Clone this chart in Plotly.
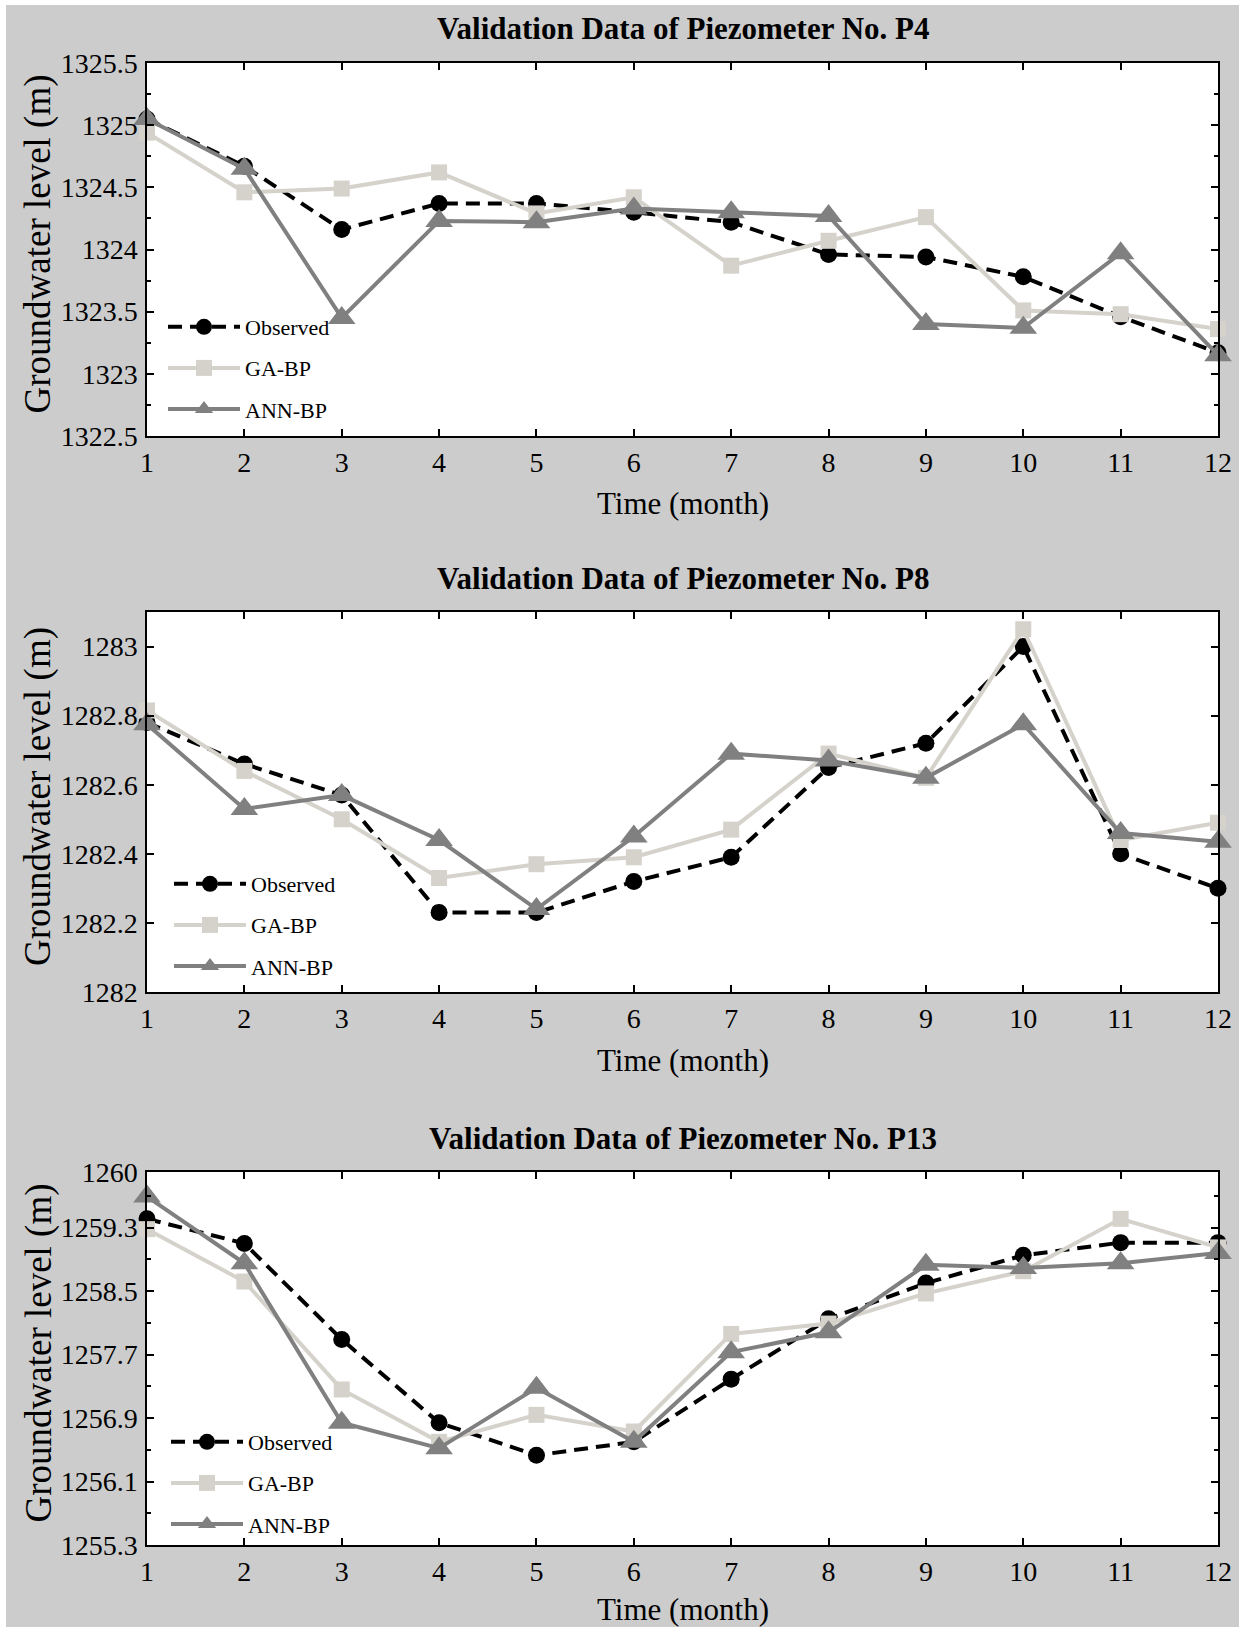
import plotly.graph_objects as go
from plotly.subplots import make_subplots

months = list(range(1, 13))

# Piezometer P4
p4_observed = [1325.05, 1324.67, 1324.16, 1324.37, 1324.37, 1324.30, 1324.22, 1323.96, 1323.94, 1323.78, 1323.46, 1323.17]
p4_gabp = [1324.94, 1324.46, 1324.49, 1324.62, 1324.29, 1324.42, 1323.87, 1324.07, 1324.26, 1323.51, 1323.48, 1323.36]
p4_annbp = [1325.05, 1324.65, 1323.45, 1324.23, 1324.22, 1324.33, 1324.30, 1324.27, 1323.40, 1323.37, 1323.97, 1323.15]

# Piezometer P8
p8_observed = [1282.78, 1282.66, 1282.57, 1282.23, 1282.23, 1282.32, 1282.39, 1282.65, 1282.72, 1283.00, 1282.40, 1282.30]
p8_gabp = [1282.815, 1282.64, 1282.50, 1282.33, 1282.37, 1282.39, 1282.47, 1282.69, 1282.62, 1283.05, 1282.44, 1282.49]
p8_annbp = [1282.775, 1282.53, 1282.57, 1282.44, 1282.24, 1282.45, 1282.69, 1282.67, 1282.62, 1282.775, 1282.46, 1282.435]

# Piezometer P13
p13_observed = [1259.41, 1259.10, 1257.89, 1256.84, 1256.43, 1256.60, 1257.39, 1258.15, 1258.60, 1258.95, 1259.11, 1259.11]
p13_gabp = [1259.28, 1258.62, 1257.26, 1256.60, 1256.94, 1256.73, 1257.96, 1258.09, 1258.47, 1258.75, 1259.41, 1259.05]
p13_annbp = [1259.69, 1258.85, 1256.84, 1256.52, 1257.28, 1256.60, 1257.73, 1257.98, 1258.83, 1258.79, 1258.85, 1258.98]

panel_titles = ["Validation Data of Piezometer No. P4",
                "Validation Data of Piezometer No. P8",
                "Validation Data of Piezometer No. P13"]
series_names = ["Observed", "GA-BP", "ANN-BP"]
x_title = "Time (month)"
y_title = "Groundwater level (m)"

p4_ticks = [1322.5, 1323, 1323.5, 1324, 1324.5, 1325, 1325.5]
p4_ticktext = ["1322.5", "1323", "1323.5", "1324", "1324.5", "1325", "1325.5"]
p8_ticks = [1282, 1282.2, 1282.4, 1282.6, 1282.8, 1283]
p8_ticktext = ["1282", "1282.2", "1282.4", "1282.6", "1282.8", "1283"]
p13_ticks = [1255.3, 1256.1, 1256.9, 1257.7, 1258.5, 1259.3, 1260]
p13_ticktext = ["1255.3", "1256.1", "1256.9", "1257.7", "1258.5", "1259.3", "1260"]

# ---------------- layout geometry (pixels) ----------------
FW, FH = 1239, 1627
ML, MR, MT, MB = 147, 21, 63, 82
PW = FW - ML - MR
PH = FH - MT - MB
BOT = FH - MB


def px2x(px):
    return (px - ML) / PW


def py2y(py):
    return (BOT - py) / PH


panels = [  # top, bottom in pixels
    (63, 436),
    (612, 992),
    (1172, 1545),
]

SERIF = "Liberation Serif"
GRAY_BG = "#cccccc"
C_OBS = "#000000"
C_GA = "#d5d2cb"
C_ANN = "#808080"

fig = make_subplots(rows=3, cols=1)

data_sets = [
    (p4_observed, p4_gabp, p4_annbp),
    (p8_observed, p8_gabp, p8_annbp),
    (p13_observed, p13_gabp, p13_annbp),
]
legend_ids = ["legend", "legend2", "legend3"]

for i, (obs, ga, ann) in enumerate(data_sets):
    row = i + 1
    lg = legend_ids[i]
    fig.add_trace(go.Scatter(
        x=months, y=obs, name=series_names[0], mode="lines+markers",
        line=dict(color=C_OBS, width=4, dash="14px,8px"),
        marker=dict(symbol="circle", size=17, color=C_OBS),
        cliponaxis=False, legend=lg, legendgroup=f"o{i}"), row=row, col=1)
    fig.add_trace(go.Scatter(
        x=months, y=ga, name=series_names[1], mode="lines+markers",
        line=dict(color=C_GA, width=4),
        marker=dict(symbol="square", size=16, color=C_GA),
        cliponaxis=False, legend=lg, legendgroup=f"g{i}"), row=row, col=1)
    fig.add_trace(go.Scatter(
        x=months, y=ann, name=series_names[2], mode="lines+markers",
        line=dict(color=C_ANN, width=4),
        marker=dict(symbol="triangle-up", size=24, color=C_ANN),
        cliponaxis=False, legend=lg, legendgroup=f"a{i}"), row=row, col=1)

axis_common = dict(
    showline=True, linecolor="black", linewidth=1.5, mirror="ticks",
    ticks="inside", ticklen=7, tickwidth=1.5, tickcolor="black",
    showgrid=False, zeroline=False,
    tickfont=dict(family=SERIF, size=28, color="black"),
)

yspecs = [
    (p4_ticks, p4_ticktext, [1322.5, 1325.5], dict(tick0=1322.5, dtick=0.25)),
    (p8_ticks, p8_ticktext, [1282, 1283.1], None),
    (p13_ticks, p13_ticktext, [1255.3, 1260], dict(tick0=1255.3, dtick=0.4)),
]

for i, (top, bot) in enumerate(panels):
    row = i + 1
    fig.update_xaxes(domain=[0, 1], range=[1, 12], tickvals=months,
                     ticktext=[str(m) for m in months], ticklabelstandoff=1,
                     **axis_common, row=row, col=1)
    tv, tt, rng, minor = yspecs[i]
    ykw = dict(domain=[py2y(bot), py2y(top)], range=rng, tickvals=tv, ticktext=tt,
               ticklabelstandoff=2, **axis_common)
    if minor is not None:
        ykw["minor"] = dict(ticks="inside", ticklen=4, tickwidth=1.5, tickcolor="black",
                            showgrid=False, **minor)
    fig.update_yaxes(**ykw, row=row, col=1)

annotations = []
legend_text_x = [245, 251, 248]
legend_first_row = [326, 883, 1441]
x_title_offset = [68, 68, 64]
ITEM_W = 72
for i, (top, bot) in enumerate(panels):
    annotations.append(dict(
        text=f"<b>{panel_titles[i]}</b>", xref="paper", yref="paper",
        x=px2x((ML + FW - MR) / 2), y=py2y(top - 34), xanchor="center", yanchor="middle",
        showarrow=False, font=dict(family=SERIF, size=31, color="black")))
    annotations.append(dict(
        text=x_title, xref="paper", yref="paper",
        x=px2x((ML + FW - MR) / 2), y=py2y(bot + x_title_offset[i]), xanchor="center",
        yanchor="middle",
        showarrow=False, font=dict(family=SERIF, size=31, color="black")))
    annotations.append(dict(
        text=y_title, xref="paper", yref="paper", textangle=-90,
        x=px2x(38), y=py2y((top + bot) / 2 - 5), xanchor="center", yanchor="middle",
        showarrow=False, font=dict(family=SERIF, size=37, color="black")))

legends = {}
for i, lg in enumerate(legend_ids):
    legends[lg] = dict(
        x=px2x(legend_text_x[i] - ITEM_W - 10), y=py2y(legend_first_row[i] - 20),
        xanchor="left", yanchor="top", xref="paper", yref="paper",
        bgcolor="rgba(0,0,0,0)", borderwidth=0,
        font=dict(family=SERIF, size=22, color="black"),
        traceorder="grouped", tracegroupgap=9.5, itemwidth=ITEM_W,
    )

shapes = [
    dict(type="rect", xref="paper", yref="paper", x0=px2x(-5), x1=px2x(6),
         y0=py2y(FH + 5), y1=py2y(-5), fillcolor="white", line_width=0, layer="below"),
    dict(type="rect", xref="paper", yref="paper", x0=px2x(-5), x1=px2x(FW + 5),
         y0=py2y(5), y1=py2y(-5), fillcolor="white", line_width=0, layer="below"),
]

fig.update_layout(
    width=FW, height=FH,
    margin=dict(l=ML, r=MR, t=MT, b=MB, autoexpand=False),
    paper_bgcolor=GRAY_BG, plot_bgcolor="white",
    showlegend=True,
    annotations=annotations,
    shapes=shapes,
    **legends,
)

fig.write_html("out.html")
